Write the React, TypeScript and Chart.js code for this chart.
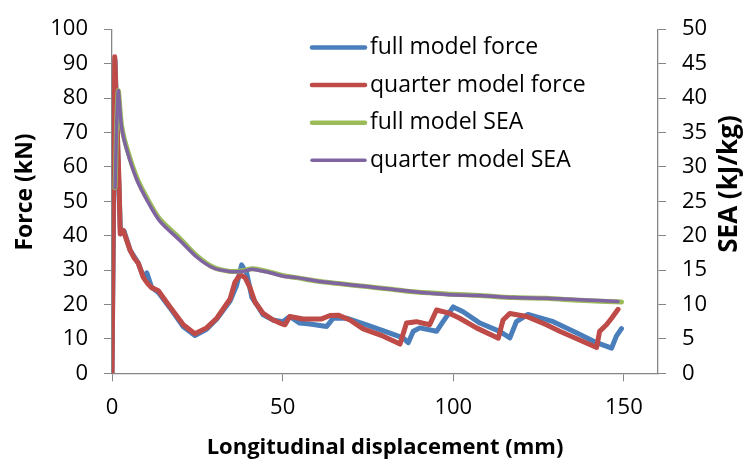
import React, { useEffect, useRef } from 'react';
import { Chart, registerables } from 'chart.js';

Chart.register(...registerables);

// ---------- data ----------
const fullForceX = [0, 0.9, 1.5, 2.1, 2.5, 3.5, 5.3, 7.7, 9.2, 10.2, 11.6, 13.6, 17, 20.9, 24.3, 27.7, 30.7, 34.6, 36.5, 38, 39.5, 41, 42.4, 44.3, 47.2, 50, 52.1, 55, 58, 62.9, 64.8, 68.7, 74.6, 80, 85.3, 86.8, 88.3, 90.2, 95.1, 97, 100, 102.9, 107.8, 113.6, 116.6, 118.5, 121.9, 129.3, 136.1, 142, 146.4, 147.8, 149.3];
const fullForceY = [0, 91, 70, 52, 40.5, 41.4, 35.8, 32, 28, 29.2, 25, 23.5, 19, 13.5, 11, 12.8, 15.8, 21, 25.5, 31.5, 29, 22, 20, 17, 15.5, 15, 16.5, 14.6, 14.3, 13.6, 16, 16, 14.1, 12.2, 10.3, 8.9, 12.2, 13.2, 12.2, 15, 19.3, 17.9, 14.6, 12.2, 10.3, 15, 17.1, 15, 11.8, 8.9, 7.3, 10.8, 13];

const quarterForceX = [0, 0.8, 1.5, 2.1, 2.4, 3.3, 5.3, 6.5, 7.7, 9.2, 10.5, 11.6, 13.6, 17, 20.9, 24.3, 27.7, 30.7, 34.6, 36, 37.5, 39, 40.4, 41.9, 44.3, 47.2, 49.2, 50.7, 52.1, 56, 61.4, 63.9, 66.3, 69.7, 73.6, 79.5, 84.4, 86.3, 89.2, 93.1, 95.1, 99, 101.9, 106.8, 113.2, 114.6, 116.6, 121.5, 127.3, 131.2, 142, 142.9, 144.9, 146.4, 148.3];
const quarterForceY = [0, 92, 72, 54, 40.5, 41.5, 35.8, 33.5, 32, 27.8, 26, 24.9, 24, 19.3, 14.1, 11.5, 13.2, 16, 21.6, 26.4, 28.7, 27.8, 25, 20.7, 17.4, 15.5, 14.6, 14.1, 16.5, 15.8, 15.8, 16.8, 16.9, 15.5, 12.9, 10.8, 8.5, 14.6, 15, 14.1, 18.4, 17.4, 16, 13.2, 10.2, 15.5, 17.4, 16.5, 14.1, 12.2, 7.5, 12.2, 14.1, 16, 18.6];

const fullSeaX = [0.9, 1.8, 2.8, 4.3, 7.2, 10.2, 14, 19.9, 24.8, 29.7, 34.6, 38, 41.4, 46.3, 50.2, 54.1, 60, 67, 74.6, 82, 89.2, 99, 107.8, 117.5, 127.3, 137, 149.3];
const fullSeaY = [27, 41, 36, 32.8, 28.5, 25.5, 22.4, 19.6, 17.1, 15.4, 14.8, 14.9, 15.2, 14.7, 14.2, 13.9, 13.4, 13.0, 12.6, 12.2, 11.8, 11.5, 11.3, 11.0, 10.9, 10.6, 10.35];

const quarterSeaX = [0.9, 1.8, 2.8, 4.3, 7.2, 10.2, 14, 19.9, 24.8, 29.7, 34.6, 38, 41.4, 46.3, 50.2, 54.1, 60, 67, 74.6, 82, 89.2, 99, 107.8, 117.5, 127.3, 137, 148.3];
const quarterSeaY = [27, 41, 35.8, 32.5, 28.2, 25.2, 22.1, 19.3, 16.9, 15.3, 14.8, 14.8, 15.1, 14.6, 14.1, 13.9, 13.4, 13.0, 12.6, 12.2, 11.8, 11.4, 11.3, 11.0, 10.9, 10.7, 10.45];

const seriesLabels = ['full model force', 'quarter model force', 'full model SEA', 'quarter model SEA'];
const xTitle = 'Longitudinal displacement (mm)';
const yTitle = 'Force (kN)';
const y2Title = 'SEA (kJ/kg)';

const zip = (xs: number[], ys: number[]) => xs.map((x, i) => ({ x, y: ys[i] }));

const AXIS = '#868686';
const FONT = 'Open Sans';

const overlayPlugin = {
  id: 'overlay',
  afterDraw(chart: any) {
    const ctx = chart.ctx as CanvasRenderingContext2D;
    const area = chart.chartArea;
    ctx.save();
    // legend
    const legendWidths = [4.5, 4.5, 4.5, 3.5];
    chart.data.datasets.forEach((ds: any, i: number) => {
      const y = 47.5 + i * 37.6;
      ctx.strokeStyle = ds.borderColor;
      ctx.lineWidth = legendWidths[i];
      ctx.lineCap = 'round';
      ctx.beginPath();
      ctx.moveTo(312, y);
      ctx.lineTo(365, y);
      ctx.stroke();
      ctx.fillStyle = '#000';
      ctx.font = `23px "${FONT}"`;
      ctx.textBaseline = 'middle';
      ctx.textAlign = 'left';
      ctx.fillText(ds.label, 370, y);
    });
    // axis titles
    ctx.fillStyle = '#000';
    ctx.textAlign = 'center';
    ctx.textBaseline = 'middle';
    ctx.font = `bold 22px "${FONT}"`;
    ctx.fillText(xTitle, (area.left + area.right) / 2, 448);

    ctx.save();
    ctx.translate(25, 192);
    ctx.rotate(-Math.PI / 2);
    ctx.font = `bold 23px "${FONT}"`;
    ctx.fillText(yTitle, 0, 0);
    ctx.restore();

    ctx.save();
    ctx.translate(730, 184);
    ctx.rotate(-Math.PI / 2);
    ctx.font = `bold 26px "${FONT}"`;
    ctx.fillText(y2Title, 0, 0);
    ctx.restore();

    ctx.restore();
  },
};

export default function App() {
  const ref = useRef<HTMLCanvasElement | null>(null);

  useEffect(() => {
    document.body.style.margin = '0';
    const canvas = ref.current;
    if (!canvas) return;
    const tickFont = { family: FONT, size: 22 };
    const chart = new Chart(canvas, {
      type: 'line',
      data: {
        datasets: [
          {
            label: seriesLabels[0],
            data: zip(fullForceX, fullForceY),
            borderColor: '#4A7EBB',
            borderWidth: 5,
            yAxisID: 'y',
            order: 3,
          },
          {
            label: seriesLabels[1],
            data: zip(quarterForceX, quarterForceY),
            borderColor: '#BE4B48',
            borderWidth: 5,
            yAxisID: 'y',
            order: 2,
          },
          {
            label: seriesLabels[2],
            data: zip(fullSeaX, fullSeaY),
            borderColor: '#9BBB59',
            borderWidth: 5,
            yAxisID: 'y2',
            tension: 0.3,
            order: 1,
          },
          {
            label: seriesLabels[3],
            data: zip(quarterSeaX, quarterSeaY),
            borderColor: '#8064A2',
            borderWidth: 3.5,
            yAxisID: 'y2',
            tension: 0.3,
            order: 0,
          },
        ],
      },
      options: {
        responsive: false,
        animation: false,
        devicePixelRatio: 1,
        layout: { padding: { top: 21, left: 0, right: 0, bottom: 0 } },
        elements: {
          point: { radius: 0 },
          line: { borderJoinStyle: 'round', borderCapStyle: 'round', fill: false },
        },
        plugins: {
          legend: { display: false },
          tooltip: { enabled: false },
        },
        scales: {
          x: {
            type: 'linear',
            min: 0,
            max: 160,
            ticks: { stepSize: 50, includeBounds: false, color: '#000', font: tickFont, padding: 13, maxRotation: 0 },
            grid: { drawOnChartArea: false, tickLength: 8, color: AXIS, tickColor: AXIS },
            border: { color: AXIS, width: 1.3 },
            afterFit: (s: any) => { s.height = 90.7; },
          },
          y: {
            position: 'left',
            min: 0,
            max: 100,
            ticks: { stepSize: 10, color: '#000', font: tickFont, padding: 16 },
            grid: { drawOnChartArea: false, tickLength: 8, color: AXIS, tickColor: AXIS },
            border: { color: AXIS, width: 1.3 },
            afterFit: (s: any) => { s.width = 112; },
          },
          y2: {
            position: 'right',
            min: 0,
            max: 50,
            ticks: { stepSize: 5, color: '#000', font: tickFont, padding: 16 },
            grid: { drawOnChartArea: false, tickLength: 8, color: AXIS, tickColor: AXIS },
            border: { color: AXIS, width: 1.3 },
            afterFit: (s: any) => { s.width = 91; },
          },
        },
      } as any,
      plugins: [overlayPlugin],
    });
    return () => chart.destroy();
  }, []);

  return (
    <div style={{ position: 'absolute', left: 0, top: 0, width: 749, height: 464, background: '#fff' }}>
      <canvas ref={ref} width={749} height={464} style={{ width: 749, height: 464, display: 'block' }} />
    </div>
  );
}
